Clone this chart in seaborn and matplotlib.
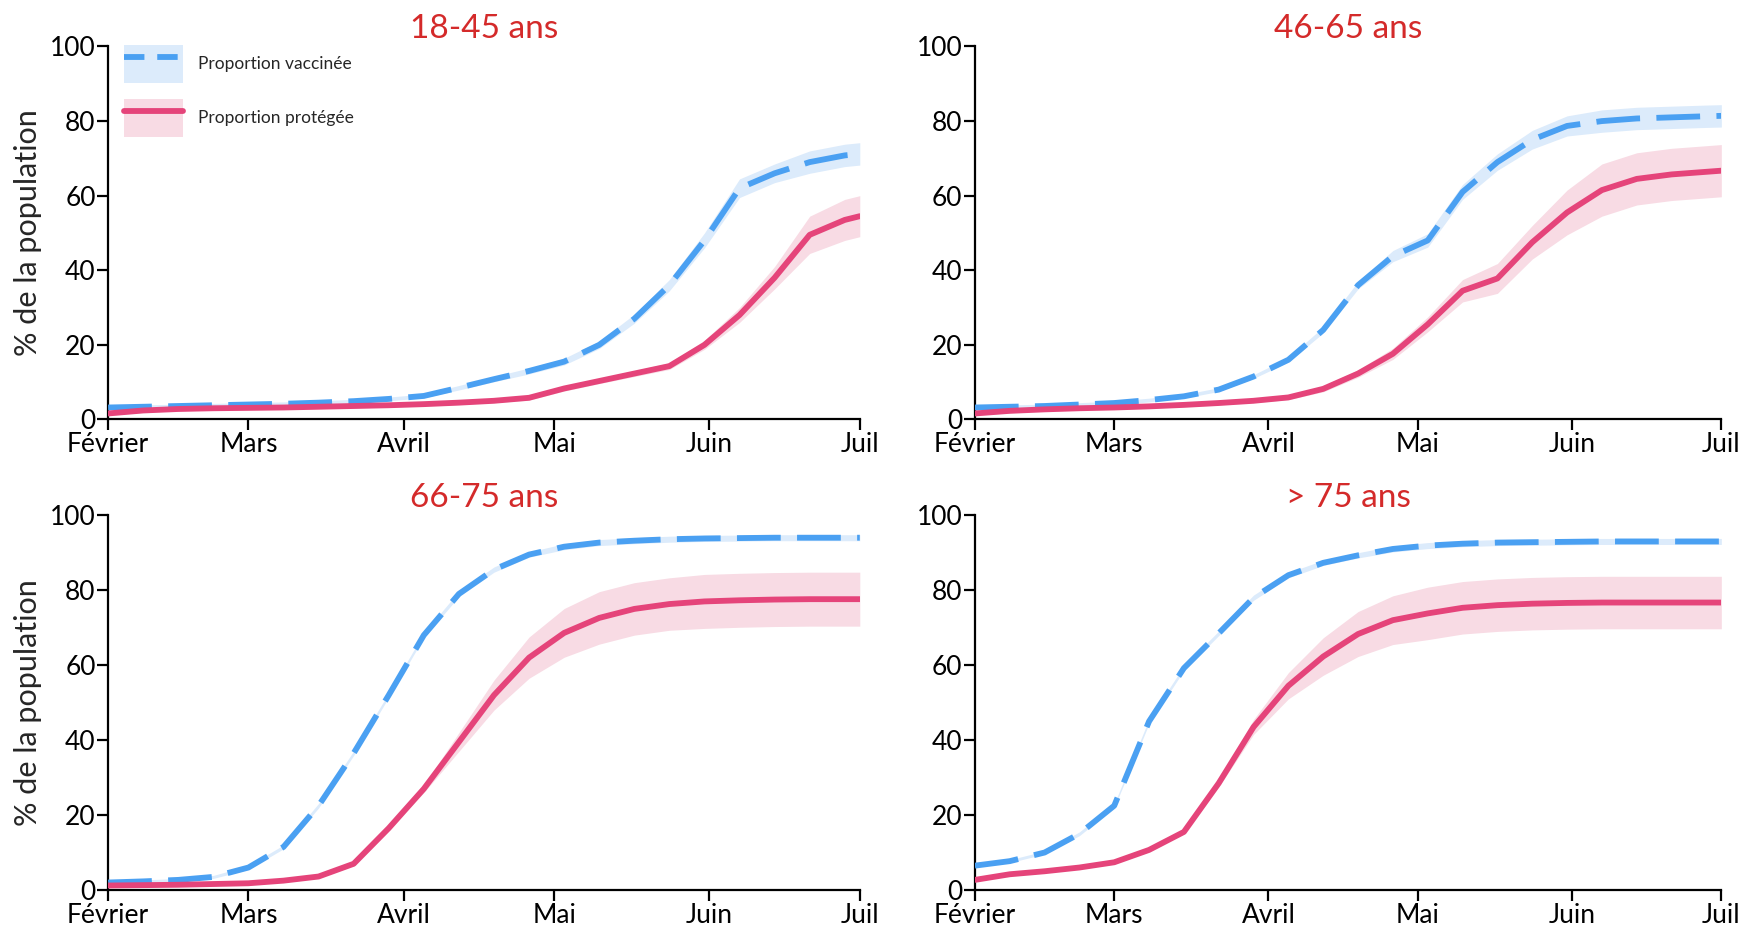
import seaborn as sns
import pandas as pd
import numpy as np
import matplotlib.pyplot as plt
from matplotlib.lines import Line2D
from matplotlib.patches import Patch

# weekly points from Feb 1 + final point on Jul 1
dates = list(pd.date_range("2021-02-01", "2021-06-28", freq="7D")) + [pd.Timestamp("2021-07-01")]

month_ticks = ["2021-02-01", "2021-03-01", "2021-04-01", "2021-05-01", "2021-06-01", "2021-07-01"]
month_labels = ["Février", "Mars", "Avril", "Mai", "Juin", "Juil"]

titles = ["18-45 ans", "46-65 ans", "66-75 ans", "> 75 ans"]

# 18-45 ans
vacc_18_45 = [3.2, 3.4, 3.6, 3.8, 4.0, 4.2, 4.5, 4.9, 5.5, 6.3, 8.5, 10.8, 13.0, 15.5, 20.0,
              27.0, 36.0, 48.0, 62.0, 66.0, 69.0, 70.8, 71.2]
vacc_err_18_45 = [0.5, 0.5, 0.5, 0.5, 0.5, 0.5, 0.5, 0.5, 0.5, 0.5, 0.6, 0.7, 0.8, 0.9, 1.0,
                  1.2, 1.5, 2.0, 2.5, 2.5, 3.0, 3.0, 3.0]
prot_18_45 = [1.6, 2.4, 2.8, 3.0, 3.1, 3.2, 3.4, 3.6, 3.8, 4.1, 4.5, 5.0, 5.8, 8.3, 10.3,
              12.3, 14.3, 20.0, 28.0, 38.0, 49.5, 53.5, 54.5]
prot_err_18_45 = [0.5, 0.5, 0.5, 0.5, 0.5, 0.5, 0.5, 0.5, 0.5, 0.5, 0.5, 0.5, 0.6, 0.7, 0.7,
                  0.8, 0.9, 1.2, 2.0, 3.0, 5.0, 5.5, 5.5]

# 46-65 ans
vacc_46_65 = [3.2, 3.4, 3.6, 4.0, 4.4, 5.2, 6.2, 8.0, 11.5, 16.0, 24.0, 36.0, 43.8, 48.0, 61.0,
              69.0, 75.0, 78.7, 80.0, 80.7, 81.0, 81.3, 81.4]
vacc_err_46_65 = [0.5, 0.5, 0.5, 0.5, 0.5, 0.5, 0.5, 0.5, 0.5, 0.6, 0.8, 1.0, 1.5, 1.8, 2.0,
                  2.2, 2.5, 2.7, 3.0, 3.0, 3.0, 3.0, 3.0]
prot_46_65 = [1.6, 2.3, 2.7, 3.0, 3.2, 3.5, 3.9, 4.4, 5.0, 5.9, 8.2, 12.3, 17.6, 25.5, 34.5,
              37.8, 47.5, 55.5, 61.5, 64.5, 65.7, 66.4, 66.7]
prot_err_46_65 = [0.5, 0.5, 0.5, 0.5, 0.5, 0.5, 0.5, 0.5, 0.5, 0.6, 0.8, 1.0, 1.5, 2.0, 3.0,
                  4.0, 4.5, 6.0, 7.0, 7.0, 7.0, 7.0, 7.0]

# 66-75 ans
vacc_66_75 = [2.0, 2.3, 2.7, 3.5, 6.0, 11.5, 22.5, 36.5, 52.0, 68.0, 79.0, 85.5, 89.5, 91.6, 92.7,
              93.2, 93.6, 93.8, 93.9, 94.0, 94.0, 94.0, 94.0]
vacc_err_66_75 = [0.4, 0.4, 0.4, 0.4, 0.5, 0.5, 0.6, 0.6, 0.6, 0.6, 0.7, 0.7, 0.7, 0.8, 0.8,
                  0.8, 0.8, 0.8, 0.8, 0.8, 0.8, 0.8, 0.8]
prot_66_75 = [1.2, 1.3, 1.4, 1.6, 1.8, 2.5, 3.6, 7.0, 16.5, 27.0, 39.5, 52.0, 62.0, 68.6, 72.6,
              75.0, 76.3, 77.0, 77.3, 77.5, 77.6, 77.6, 77.6]
prot_err_66_75 = [0.4, 0.4, 0.4, 0.4, 0.4, 0.4, 0.4, 0.5, 0.5, 1.0, 2.5, 4.0, 5.5, 6.5, 7.0,
                  7.0, 7.0, 7.2, 7.2, 7.2, 7.2, 7.2, 7.2]

# > 75 ans
vacc_75 = [6.5, 7.7, 10.0, 15.0, 22.5, 45.0, 59.2, 68.5, 78.0, 84.0, 87.3, 89.3, 91.0, 91.9, 92.4,
           92.7, 92.8, 92.9, 93.0, 93.0, 93.0, 93.0, 93.0]
vacc_err_75 = [0.4, 0.4, 0.4, 0.5, 0.5, 0.6, 0.6, 0.6, 0.7, 0.7, 0.7, 0.7, 0.8, 0.8, 0.8,
               0.8, 0.8, 0.8, 0.8, 0.8, 0.8, 0.8, 0.8]
prot_75 = [2.7, 4.2, 5.0, 6.0, 7.4, 10.7, 15.5, 28.5, 43.5, 54.5, 62.3, 68.3, 72.0, 73.8, 75.3,
           76.0, 76.4, 76.6, 76.7, 76.7, 76.7, 76.7, 76.7]
prot_err_75 = [0.4, 0.4, 0.4, 0.4, 0.4, 0.4, 0.5, 1.0, 2.0, 3.5, 5.0, 6.0, 6.5, 7.0, 7.0,
               7.0, 7.0, 7.0, 7.0, 7.0, 7.0, 7.0, 7.0]

vacc_all = [vacc_18_45, vacc_46_65, vacc_66_75, vacc_75]
vacc_err_all = [vacc_err_18_45, vacc_err_46_65, vacc_err_66_75, vacc_err_75]
prot_all = [prot_18_45, prot_46_65, prot_66_75, prot_75]
prot_err_all = [prot_err_18_45, prot_err_46_65, prot_err_66_75, prot_err_75]

BLUE = "#4aa0f2"
BLUE_BAND = "#dcebfb"
PINK = "#e5447a"
PINK_BAND = "#f8dbe4"
TITLE_RED = "#d42a2a"

sns.set_style("white")
plt.rcParams["font.family"] = ["Lato", "DejaVu Sans"]

fig = plt.figure(figsize=(17.44, 9.30), dpi=100)
positions = [
    [0.062, 0.549, 0.431, 0.401],
    [0.559, 0.549, 0.428, 0.401],
    [0.062, 0.043, 0.431, 0.403],
    [0.559, 0.043, 0.428, 0.403],
]

for i in range(4):
    ax = fig.add_axes(positions[i])
    df = pd.DataFrame({"date": dates, "vacc": vacc_all[i], "prot": prot_all[i]})
    v = np.array(vacc_all[i])
    ve = np.array(vacc_err_all[i])
    p = np.array(prot_all[i])
    pe = np.array(prot_err_all[i])

    ax.fill_between(df["date"], v - ve, v + ve, color=BLUE_BAND, lw=0, zorder=1)
    ax.fill_between(df["date"], p - pe, p + pe, color=PINK_BAND, lw=0, zorder=1)
    sns.lineplot(data=df, x="date", y="vacc", ax=ax, color=BLUE, lw=4.2, zorder=3)
    ax.lines[-1].set_dashes((7.5, 2.8))
    sns.lineplot(data=df, x="date", y="prot", ax=ax, color=PINK, lw=4.2, zorder=3)

    ax.set_xlim(pd.Timestamp("2021-02-01"), pd.Timestamp("2021-07-01"))
    ax.set_ylim(0, 100)
    ax.set_xticks(pd.to_datetime(month_ticks))
    ax.set_xticklabels(month_labels)
    ax.set_yticks([0, 20, 40, 60, 80, 100])
    ax.set_xlabel("")
    if i % 2 == 0:
        ax.set_ylabel("% de la population", fontsize=22, labelpad=6)
    else:
        ax.set_ylabel("")
    ax.set_title(titles[i], color=TITLE_RED, fontsize=24, pad=6)
    sns.despine(ax=ax)
    for s in ["left", "bottom"]:
        ax.spines[s].set_color("black")
        ax.spines[s].set_linewidth(1.6)
    ax.tick_params(axis="both", direction="out", length=8, width=1.6,
                   labelsize=19, colors="black", pad=1, left=True, bottom=True)

    if i == 0:
        h_vacc = (Patch(facecolor=BLUE_BAND, edgecolor="none"),
                  Line2D([], [], color=BLUE, lw=4.2, dashes=(3.5, 2.2)))
        h_prot = (Patch(facecolor=PINK_BAND, edgecolor="none"),
                  Line2D([], [], color=PINK, lw=4.2))
        ax.legend([h_vacc, h_prot], ["Proportion vaccinée", "Proportion protégée"],
                  loc="upper left", bbox_to_anchor=(0.0, 1.045), frameon=False,
                  fontsize=12.5, handlelength=3.4, handleheight=3.0,
                  labelspacing=0.9, handletextpad=0.9, borderaxespad=0.5)

fig.savefig("out.png", dpi=100)
